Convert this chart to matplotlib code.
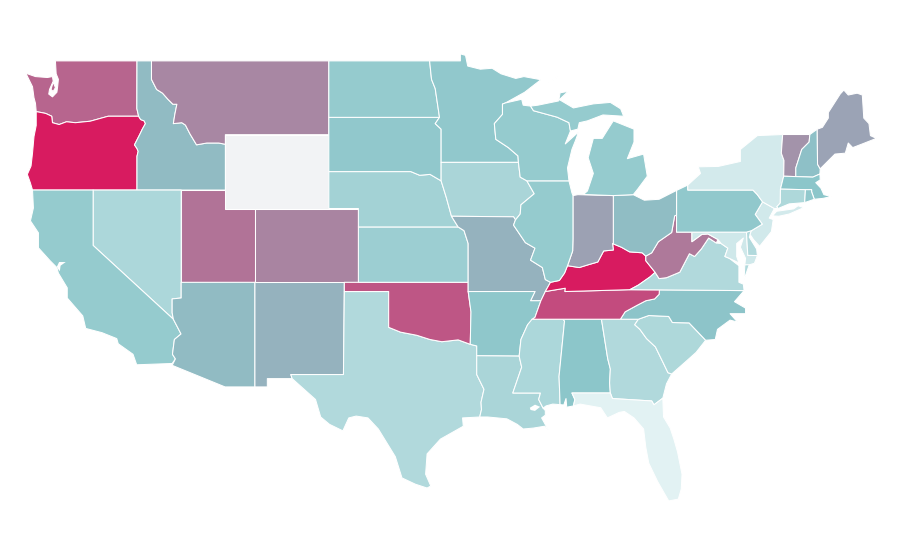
#!/usr/bin/env python3
"""US states choropleth, outlines in lon/lat on a plain equirectangular axes."""
import numpy as np
import matplotlib
matplotlib.use('Agg')
import matplotlib.pyplot as plt
from matplotlib.colors import LinearSegmentedColormap

# estimated score per state, None = no data
VALUES = {
    'WA': 74, 'OR': 100, 'CA': 36, 'ID': 44, 'NV': 26, 'MT': 62, 'WY': None, 'UT': 69,
    'AZ': 44, 'CO': 63, 'NM': 47, 'ND': 36, 'SD': 38, 'NE': 30, 'KS': 33, 'OK': 79,
    'TX': 24, 'MN': 38, 'IA': 27, 'MO': 47, 'AR': 39, 'LA': 27, 'WI': 36, 'IL': 36,
    'MS': 26, 'MI': 36, 'IN': 53, 'KY': 100, 'TN': 83, 'AL': 40, 'OH': 43, 'GA': 24,
    'FL': 3, 'SC': 25, 'NC': 41, 'VA': 24, 'WV': 67, 'PA': 38, 'NY': 9, 'MD': 11,
    'DE': 24, 'NJ': 10, 'CT': 25, 'RI': 38, 'MA': 40, 'VT': 58, 'NH': 42, 'ME': 52,
}

OUTLINES = {
    'WA': [[(-124.55,48.33),(-123.9,48.15),(-123.1,48.1),(-122.75,48.15),(-122.7,47.9),(-122.95,47.45),
            (-123.0,47.2),(-122.75,47.05),(-122.45,47.3),(-122.4,47.6),(-122.35,48.0),(-122.5,48.3),
            (-122.55,49.0),(-117.03,49.0),(-117.04,46.42),(-116.92,46.0),(-118.98,46.0),
            (-119.3,45.93),(-120.2,45.73),(-121.2,45.65),(-121.8,45.7),(-122.3,45.55),(-122.75,45.65),
            (-122.8,46.0),(-123.2,46.15),(-123.5,46.2),(-123.85,46.25),(-123.9,46.7),(-124.0,47.0),
            (-124.1,47.6)],
           [(-122.7,47.85),(-122.55,47.55),(-122.7,47.35),(-122.85,47.45)]],
    'OR': [[(-123.85,46.25),(-123.5,46.2),(-123.2,46.15),(-122.8,46.0),(-122.75,45.65),(-122.3,45.55),
            (-121.8,45.7),(-121.2,45.65),(-120.2,45.73),(-119.3,45.93),(-118.98,46.0),(-116.92,46.0),
            (-116.78,45.82),(-116.55,45.75),(-116.46,45.6),(-116.67,45.3),(-116.85,45.0),(-117.2,44.45),
            (-117.03,44.25),(-116.95,44.1),(-117.03,43.83),(-117.03,42.0),(-124.1,42.0),(-124.25,42.4),
            (-124.45,42.85),(-124.2,43.3),(-124.1,44.0),(-124.0,44.9),(-123.85,45.5)]],
    'ID': [[(-117.03,49.0),(-116.05,49.0),(-116.05,48.0),(-115.7,47.45),(-115.3,47.25),(-114.95,46.93),
            (-114.6,46.65),(-114.33,46.65),(-114.47,46.1),(-114.57,45.6),(-114.0,45.65),(-113.75,45.52),
            (-113.45,45.05),(-113.0,44.45),(-112.3,44.55),(-111.5,44.55),(-111.05,44.48),(-111.05,42.0),
            (-117.03,42.0),(-117.03,43.83),(-116.95,44.1),(-117.03,44.25),(-117.2,44.45),(-116.85,45.0),
            (-116.67,45.3),(-116.46,45.6),(-116.55,45.75),(-116.78,45.82),(-116.92,46.0),(-117.04,46.42)]],
    'MT': [[(-116.05,49.0),(-104.05,49.0),(-104.05,45.0),(-111.05,45.0),(-111.05,44.48),(-111.5,44.55),
            (-112.3,44.55),(-113.0,44.45),(-113.45,45.05),(-113.75,45.52),(-114.0,45.65),(-114.57,45.6),
            (-114.47,46.1),(-114.33,46.65),(-114.6,46.65),(-114.95,46.93),(-115.3,47.25),(-115.7,47.45),
            (-116.05,48.0)]],
    'WY': [[(-111.05,45.0),(-104.05,45.0),(-104.05,41.0),(-111.05,41.0)]],
    'UT': [[(-114.04,42.0),(-111.05,42.0),(-111.05,41.0),(-109.05,41.0),(-109.05,37.0),(-114.04,37.0)]],
    'NV': [[(-120.0,42.0),(-114.04,42.0),(-114.04,36.15),(-114.65,36.1),(-114.65,35.35),(-114.57,35.0),(-120.0,39.0)]],
    'CA': [[(-124.1,42.0),(-120.0,42.0),(-120.0,39.0),(-114.57,35.0),(-114.05,34.2),(-114.5,33.9),(-114.63,33.1),
            (-114.43,32.85),(-114.65,32.6),(-117.05,32.53),(-117.3,33.1),(-118.3,33.67),(-118.4,33.95),
            (-119.4,34.27),(-120.5,34.5),(-120.7,35.18),(-121.75,36.15),(-121.75,36.7),(-122.35,37.5),
            (-122.45,37.8),(-122.9,38.16),(-123.7,38.87),(-123.7,39.68),(-124.24,40.33),(-124.04,41.03)]],
    'AZ': [[(-114.04,37.0),(-109.05,37.0),(-109.05,31.33),(-111.07,31.33),(-114.65,32.5),(-114.43,32.85),
            (-114.63,33.1),(-114.5,33.9),(-114.05,34.2),(-114.57,35.0),(-114.65,35.35),(-114.65,36.1),
            (-114.04,36.15)]],
    'NM': [[(-109.05,37.0),(-103.0,37.0),(-103.06,32.0),(-106.62,32.0),(-106.53,31.78),(-108.21,31.78),
            (-108.21,31.33),(-109.05,31.33)]],
    'CO': [[(-109.05,41.0),(-102.05,41.0),(-102.05,37.0),(-109.05,37.0)]],
    'TX': [[(-106.62,32.0),(-103.06,32.0),(-103.0,36.5),(-100.0,36.5),(-100.0,34.56),(-99.2,34.3),
            (-98.1,34.13),(-97.2,33.9),(-96.4,33.78),(-95.3,33.88),(-94.48,33.64),(-94.04,33.55),
            (-94.04,33.02),(-94.04,32.0),(-93.55,31.2),(-93.75,30.5),(-93.72,30.1),(-93.84,29.7),
            (-95.0,29.65),(-94.95,29.2),(-96.5,28.5),(-97.4,27.7),(-97.5,26.6),(-97.15,25.96),
            (-97.4,25.85),(-98.2,26.06),(-99.1,26.4),(-99.55,27.55),(-100.7,29.05),
            (-101.4,29.65),(-102.2,29.75),(-102.7,29.65),(-103.1,28.95),(-104.0,29.3),(-104.6,29.7),
            (-104.95,30.65),(-106.0,31.4),(-106.53,31.78)]],
    'OK': [[(-103.0,37.0),(-94.62,37.0),(-94.62,36.5),(-94.43,35.4),(-94.48,33.64),(-95.3,33.88),
            (-96.4,33.78),(-97.2,33.9),(-98.1,34.13),(-99.2,34.3),(-100.0,34.56),(-100.0,36.5),(-103.0,36.5)]],
    'KS': [[(-102.05,40.0),(-95.3,40.0),(-94.9,39.8),(-94.62,39.1),(-94.62,37.0),(-102.05,37.0)]],
    'NE': [[(-104.05,43.0),(-98.5,43.0),(-97.9,42.8),(-97.2,42.85),(-96.45,42.5),(-96.1,41.6),(-95.75,40.58),
            (-95.3,40.0),(-102.05,40.0),(-102.05,41.0),(-104.05,41.0)]],
    'SD': [[(-104.05,45.94),(-96.56,45.94),(-96.85,45.6),(-96.45,45.3),(-96.45,43.5),(-96.45,42.5),
            (-97.2,42.85),(-97.9,42.8),(-98.5,43.0),(-104.05,43.0)]],
    'ND': [[(-104.05,49.0),(-97.23,49.0),(-97.1,48.0),(-96.85,47.5),(-96.56,45.94),(-104.05,45.94)]],
    'MN': [[(-97.23,49.0),(-95.15,49.0),(-95.15,49.38),(-94.8,49.3),(-94.65,48.72),(-93.8,48.55),(-93.0,48.6),
            (-92.4,48.3),(-91.4,48.05),(-90.85,48.15),(-89.7,47.98),(-90.8,47.3),(-92.1,46.72),(-92.3,46.66),
            (-92.3,46.1),(-92.85,45.6),(-92.75,44.75),(-91.9,44.3),(-91.25,43.85),(-91.22,43.5),(-96.45,43.5),
            (-96.45,45.3),(-96.85,45.6),(-96.56,45.94),(-96.85,47.5),(-97.1,48.0)]],
    'IA': [[(-96.45,43.5),(-91.22,43.5),(-91.1,42.7),(-90.65,42.5),(-90.15,41.8),(-91.05,41.2),(-91.1,40.7),
            (-91.42,40.38),(-91.55,40.55),(-95.75,40.58),(-96.1,41.6),(-96.45,42.5)]],
    'MO': [[(-95.75,40.58),(-91.55,40.55),(-91.42,40.38),(-91.55,40.1),(-90.75,39.15),(-90.1,38.85),(-90.4,38.2),
            (-89.6,37.8),(-89.4,37.15),(-89.05,37.0),(-89.4,36.5),(-89.7,36.0),(-90.4,36.0),(-90.1,36.5),(-94.62,36.5),
            (-94.62,39.1),(-94.9,39.8),(-95.3,40.0)]],
    'AR': [[(-94.62,36.5),(-90.1,36.5),(-90.4,36.0),(-89.7,36.0),(-90.1,35.1),(-90.6,34.7),(-91.05,33.9),
            (-91.17,33.0),(-94.04,33.02),(-94.04,33.55),(-94.48,33.64),(-94.43,35.4)]],
    'LA': [[(-94.04,33.02),(-91.17,33.0),(-91.0,32.4),(-91.6,31.0),(-89.73,31.0),(-89.85,30.65),(-89.55,30.18),
            (-89.4,30.05),(-89.4,29.8),(-89.65,29.65),(-89.2,29.0),(-89.45,29.2),(-90.2,29.1),(-90.9,29.05),
            (-91.3,29.3),(-92.0,29.6),(-93.3,29.7),(-93.84,29.7),(-93.72,30.1),(-93.75,30.5),
            (-93.55,31.2),(-94.04,32.0)]],
    'MS': [[(-91.17,33.0),(-91.05,33.9),(-90.6,34.7),(-90.3,35.0),(-88.2,35.0),(-88.1,34.9),(-88.47,31.9),
            (-88.4,30.37),(-88.9,30.4),(-89.35,30.3),(-89.55,30.18),(-89.85,30.65),(-89.73,31.0),(-91.6,31.0),
            (-91.0,32.4)]],
    'AL': [[(-88.2,35.0),(-85.6,35.0),(-85.18,32.87),(-85.0,32.3),(-85.05,31.55),(-85.0,31.0),(-87.6,31.0),
            (-87.4,30.65),(-87.5,30.3),(-87.95,30.23),(-88.0,30.7),(-88.15,30.35),(-88.4,30.37),(-88.47,31.9),
            (-88.1,34.9)]],
    'GA': [[(-85.6,35.0),(-83.1,35.0),(-83.35,34.7),(-83.0,34.45),(-82.55,33.95),(-81.95,33.5),(-81.4,32.6),
            (-81.1,32.1),(-80.85,32.03),(-81.2,31.5),(-81.45,30.72),(-82.05,30.36),(-82.2,30.57),(-84.86,30.7),
            (-85.0,31.0),(-85.05,31.55),(-85.0,32.3),(-85.18,32.87)]],
    'FL': [[(-87.6,31.0),(-85.0,31.0),(-84.86,30.7),(-82.2,30.57),(-82.05,30.36),(-81.45,30.72),(-81.4,29.7),
            (-80.95,29.1),(-80.7,28.5),(-80.45,27.8),(-80.15,26.6),(-80.2,25.8),(-80.4,25.25),(-81.05,25.15),
            (-81.8,26.2),(-82.4,27.2),(-82.6,28.05),(-82.75,29.05),(-83.4,29.65),(-84.05,30.0),(-84.4,29.95),
            (-85.2,29.65),(-85.65,30.2),(-87.05,30.4),(-87.5,30.3),(-87.4,30.65)]],
    'SC': [[(-83.1,35.0),(-82.4,35.2),(-81.05,35.15),(-80.8,34.82),(-79.67,34.8),(-78.55,33.86),(-79.2,33.2),
            (-79.9,32.7),(-80.85,32.03),(-81.1,32.1),(-81.4,32.6),(-81.95,33.5),(-82.55,33.95),(-83.0,34.45),
            (-83.35,34.7)]],
    'NC': [[(-84.32,35.0),(-83.1,35.0),(-82.4,35.2),(-81.05,35.15),(-80.8,34.82),(-79.67,34.8),(-78.55,33.86),
            (-77.9,33.9),(-77.75,34.45),(-76.9,34.95),(-76.4,34.85),(-76.9,35.3),(-75.85,35.3),(-75.85,35.6),
            (-76.6,35.95),(-75.95,36.55),(-81.68,36.59),(-81.7,36.35),(-82.0,36.1),(-82.6,36.0),(-83.2,35.75),
            (-84.0,35.4)]],
    'TN': [[(-90.3,35.0),(-88.2,35.0),(-85.6,35.0),(-84.32,35.0),(-84.0,35.4),(-83.2,35.75),(-82.6,36.0),
            (-82.0,36.1),(-81.7,36.35),(-81.68,36.59),(-83.68,36.6),(-88.07,36.5),(-88.05,36.68),(-89.4,36.5),
            (-89.7,36.0),(-90.1,35.1)]],
    'KY': [[(-89.4,36.5),(-88.05,36.68),(-88.07,36.5),(-83.68,36.6),(-83.1,36.85),(-82.3,37.3),(-81.97,37.54),
            (-82.6,38.17),(-82.6,38.42),(-82.85,38.6),(-83.7,38.65),(-84.25,38.9),(-84.85,39.1),(-84.8,38.75),
            (-85.45,38.7),(-85.85,38.1),(-86.5,37.95),(-87.1,37.8),(-87.9,37.9),(-88.1,37.5),(-88.45,37.1),
            (-89.05,37.0)]],
    'VA': [[(-83.68,36.6),(-81.68,36.59),(-75.95,36.55),(-76.0,36.9),(-76.3,37.0),(-76.3,37.6),(-76.3,37.9),
            (-76.95,38.3),(-77.25,38.4),(-77.05,38.85),(-77.5,39.1),(-77.83,39.13),(-78.35,39.4),(-78.85,38.8),
            (-79.3,38.4),(-79.65,38.55),(-80.3,37.55),(-81.2,37.25),(-81.7,37.2),(-81.97,37.54),(-82.3,37.3),
            (-83.1,36.85)],
           [(-75.95,37.15),(-75.6,37.95),(-75.25,38.03),(-75.9,37.95)]],
    'WV': [[(-82.6,38.17),(-81.97,37.54),(-81.7,37.2),(-81.2,37.25),(-80.3,37.55),(-79.65,38.55),(-79.3,38.4),
            (-78.85,38.8),(-78.35,39.4),(-77.83,39.13),(-77.72,39.32),(-78.4,39.62),(-78.8,39.6),(-79.48,39.2),
            (-79.48,39.72),(-80.52,39.72),(-80.52,40.64),(-80.65,40.6),(-80.85,39.7),(-81.75,39.2),(-82.2,38.6),
            (-82.6,38.42)]],
    'MD': [[(-79.48,39.72),(-75.79,39.72),(-75.7,38.46),(-75.05,38.45),(-75.25,38.03),(-75.6,37.95),(-75.9,37.95),
            (-75.85,38.3),(-76.2,38.9),(-76.0,39.4),(-76.45,39.1),(-76.45,38.4),(-76.3,38.05),(-76.95,38.3),
            (-77.25,38.4),(-77.05,38.85),(-77.5,39.1),(-77.72,39.32),(-78.4,39.62),(-78.8,39.6),(-79.48,39.2)]],
    'DE': [[(-75.79,39.72),(-75.45,39.8),(-75.6,39.45),(-75.1,38.8),(-75.05,38.45),(-75.7,38.46)]],
    'NJ': [[(-75.45,39.8),(-74.72,40.15),(-75.2,40.68),(-74.7,41.36),(-73.9,41.0),(-74.25,40.48),(-73.98,40.4),
            (-74.1,39.75),(-74.9,38.95),(-75.3,39.3),(-75.55,39.6)]],
    'PA': [[(-80.52,41.98),(-79.76,42.27),(-79.76,42.0),(-75.35,42.0),(-75.05,41.75),(-74.7,41.36),(-75.2,40.68),
            (-74.72,40.15),(-75.45,39.8),(-75.79,39.72),(-80.52,39.72)]],
    'NY': [[(-79.76,42.0),(-75.35,42.0),(-75.05,41.75),(-74.7,41.36),(-73.9,41.0),(-73.65,41.0),(-73.73,41.1),
            (-73.5,41.3),(-73.49,42.05),(-73.27,42.75),(-73.25,43.6),(-73.43,44.0),(-73.34,45.01),(-75.05,44.95),
            (-76.2,44.2),(-76.2,43.55),(-77.7,43.28),(-79.05,43.26),(-78.9,42.9),(-79.76,42.27)],
           [(-74.03,40.6),(-73.75,40.85),(-72.6,40.98),(-72.3,41.15),(-71.9,41.05),(-72.9,40.7),(-73.6,40.58)]],
    'VT': [[(-73.34,45.01),(-71.5,45.01),(-71.55,44.6),(-72.05,44.2),(-72.45,43.2),(-72.45,42.73),(-73.27,42.75),
            (-73.25,43.6),(-73.43,44.0)]],
    'NH': [[(-71.5,45.01),(-71.0,45.3),(-70.98,43.4),(-70.8,43.15),(-70.82,42.87),(-71.3,42.7),(-72.45,42.73),
            (-72.45,43.2),(-72.05,44.2),(-71.55,44.6)]],
    'ME': [[(-71.0,45.3),(-70.65,45.4),(-70.25,45.9),(-70.25,46.2),(-69.45,47.2),(-69.2,47.42),(-68.9,47.15),
            (-68.3,47.25),(-67.95,47.15),(-67.85,45.9),(-67.5,45.6),(-67.4,44.95),(-67.0,44.8),(-67.95,44.5),
            (-68.6,44.3),(-68.9,44.55),(-69.1,44.0),(-69.8,43.95),(-70.8,43.15),(-70.98,43.4)]],
    'MA': [[(-73.49,42.05),(-71.8,42.02),(-71.38,42.02),(-71.38,41.9),(-71.2,41.5),(-70.6,41.55),(-70.05,41.65),
            (-70.55,41.75),(-70.75,42.1),(-71.1,42.4),(-70.8,42.55),(-70.82,42.87),(-71.3,42.7),(-72.45,42.73),
            (-73.27,42.75)]],
    'CT': [[(-73.49,42.05),(-71.8,42.02),(-71.85,41.32),(-72.9,41.25),(-73.65,41.0),(-73.73,41.1),(-73.5,41.3)]],
    'RI': [[(-71.8,42.02),(-71.38,42.02),(-71.38,41.9),(-71.2,41.5),(-71.85,41.32)]],
    'OH': [[(-80.52,41.98),(-81.7,41.5),(-82.7,41.45),(-83.45,41.75),(-84.8,41.7),(-84.8,39.1),(-84.85,39.1),
            (-84.25,38.9),(-83.7,38.65),(-82.85,38.6),(-82.6,38.42),(-82.2,38.6),(-81.75,39.2),(-80.85,39.7),
            (-80.65,40.6),(-80.52,40.64)]],
    'IN': [[(-87.53,41.7),(-87.2,41.75),(-84.8,41.7),(-84.8,39.1),(-84.85,39.1),(-84.8,38.75),(-85.45,38.7),
            (-85.85,38.1),(-86.5,37.95),(-87.1,37.8),(-87.9,37.9),(-87.55,38.7),(-87.53,39.35)]],
    'IL': [[(-90.65,42.5),(-87.8,42.5),(-87.6,41.85),(-87.53,41.7),(-87.53,39.35),(-87.55,38.7),(-87.9,37.9),
            (-88.1,37.5),(-88.45,37.1),(-89.05,37.0),(-89.4,37.15),(-89.6,37.8),(-90.4,38.2),(-90.1,38.85),
            (-90.75,39.15),(-91.55,40.1),(-91.42,40.38),(-91.1,40.7),(-91.05,41.2),(-90.15,41.8)]],
    'WI': [[(-92.1,46.72),(-91.0,46.92),(-90.9,46.6),(-90.4,46.55),(-90.2,46.3),(-88.6,45.95),(-87.8,45.65),
            (-87.7,45.2),(-88.05,44.5),(-87.15,45.15),(-87.35,44.7),(-87.6,44.2),(-87.9,43.2),(-87.8,42.5),
            (-90.65,42.5),(-91.1,42.7),(-91.22,43.5),(-91.25,43.85),(-91.9,44.3),(-92.75,44.75),(-92.85,45.6),
            (-92.3,46.1),(-92.3,46.66)]],
    'MI': [[(-86.82,41.76),(-84.8,41.7),(-83.45,41.75),(-83.15,42.05),(-82.5,42.75),(-82.75,43.95),(-83.85,43.7),
            (-83.4,44.6),(-83.4,45.3),(-84.8,45.75),(-85.0,45.5),(-85.55,44.8),(-86.15,44.8),(-86.5,43.75),
            (-86.15,42.9),(-86.55,41.95)],
           [(-90.4,46.55),(-89.9,46.6),(-88.5,46.83),(-88.4,47.27),(-87.85,47.35),(-88.45,46.9),(-87.5,46.45),
            (-86.15,46.67),(-85.0,46.75),(-84.3,46.4),(-84.1,46.0),(-85.5,46.07),(-86.55,45.75),(-87.1,45.65),
            (-87.2,45.3),(-87.7,45.2),(-87.8,45.65),(-88.6,45.95),(-90.2,46.3)],
           [(-89.2,47.85),(-88.5,48.15),(-88.9,47.95)]],
}
LAKE_PONTCHARTRAIN = [(-90.45,30.2),(-90.1,30.37),(-89.75,30.25),(-90.1,30.03),(-90.4,30.08)]
SF_BAY = [(-122.45,37.85),(-122.3,38.1),(-121.85,38.1),(-122.2,37.9),(-122.25,37.6),(-122.4,37.75)]

cmap = LinearSegmentedColormap.from_list(
    'score', [(0.0, '#e8f5f6'), (0.4, '#8cc6ca'), (1.0, '#d81b60')])
NO_DATA = '#f2f3f5'

fig = plt.figure(figsize=(9, 5.6), dpi=100)
ax = fig.add_axes([0, 0, 1, 1])
for state, rings in OUTLINES.items():
    v = VALUES[state]
    color = NO_DATA if v is None else cmap(v / 100)
    for ring in rings:
        xy = np.array(ring)
        ax.fill(xy[:, 0], xy[:, 1], facecolor=color, edgecolor='white', linewidth=0.75, joinstyle='round')
for water in [LAKE_PONTCHARTRAIN, SF_BAY]:
    xy = np.array(water)
    ax.fill(xy[:, 0], xy[:, 1], facecolor='white', edgecolor='none')

ax.set_xlim(-126.30, -65.40)
ax.set_ylim(21.95, 52.30)
ax.axis('off')
fig.savefig('out.png', dpi=100)
